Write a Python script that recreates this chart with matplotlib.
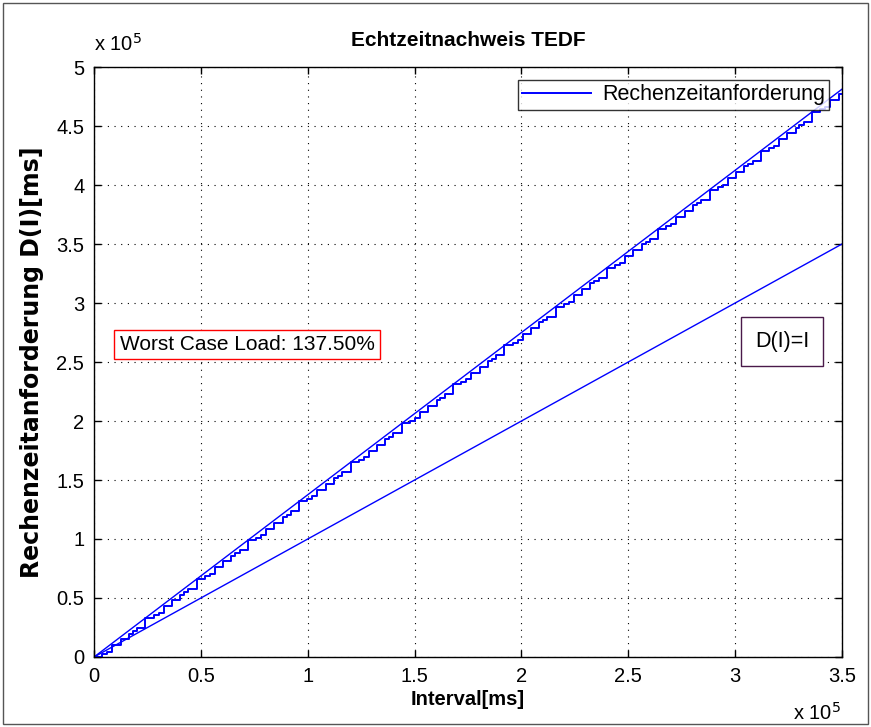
import numpy as np
import matplotlib.pyplot as plt
from matplotlib.patches import Rectangle

plt.rcParams['font.family'] = ['Liberation Sans', 'DejaVu Sans']

# demand pattern of one period, repeats over the interval
period_len = 24000
step_offsets = [3870, 6190, 8510, 12380, 16250, 18110, 20120, 24000]
step_heights = [2260, 1970, 5640, 5080, 4800, 1970, 2820, 8460]
n_periods = 15

# bound lines
load_x = [0, 3.5e5]
load_y = [0, 4.8125e5]   # 137.5 % load
ident_x = [0, 3.5e5]
ident_y = [0, 3.5e5]

x_ticks = [0, 0.5e5, 1e5, 1.5e5, 2e5, 2.5e5, 3e5, 3.5e5]
y_ticks = [0, 0.5e5, 1e5, 1.5e5, 2e5, 2.5e5, 3e5, 3.5e5, 4e5, 4.5e5, 5e5]

# build the step curve
sx = [0]
sy = [0]
level = 0
for k in range(n_periods):
    for off, h in zip(step_offsets, step_heights):
        level += h
        sx.append(k * period_len + off)
        sy.append(level)

fig = plt.figure(figsize=(8.71, 7.27), dpi=100)
ax = fig.add_axes([0.108, 0.0963, 0.8587, 0.8115])

line_step, = ax.step(sx, sy, where='post', color='blue', lw=1.4)
ax.plot(load_x, load_y, color='blue', lw=1.0)
ax.plot(ident_x, ident_y, color='blue', lw=1.0)

ax.set_xlim(0, 3.5e5)
ax.set_ylim(0, 5e5)
ax.set_xticks(x_ticks)
ax.set_yticks(y_ticks)
ax.set_xticklabels(['%g' % (v / 1e5) for v in x_ticks])
ax.set_yticklabels(['%g' % (v / 1e5) for v in y_ticks])
ax.tick_params(direction='in', top=True, right=True, labelsize=14.5, length=5, width=1, pad=7)
ax.grid(True, linestyle=(0, (1, 5)), color='black', lw=0.8)
for s in ax.spines.values():
    s.set_linewidth(1.0)

ax.set_title('Echtzeitnachweis TEDF', fontsize=15, fontweight='bold', pad=15)
ax.set_xlabel('Interval[ms]', fontsize=14.5, fontweight='bold', labelpad=3)
ax.set_ylabel('Rechenzeitanforderung D(I)[ms]', fontsize=17, fontweight='bold',
              family='DejaVu Sans', labelpad=9)

fig.text(0.108, 0.925, r'x 10$^{5}$', fontsize=14.5, ha='left', va='bottom')
fig.text(0.966, 0.005, r'x 10$^{5}$', fontsize=14.5, ha='right', va='bottom')

leg = ax.legend([line_step], ['Rechenzeitanforderung'], loc='upper right',
                fontsize=15.5, frameon=True, fancybox=False, borderaxespad=0.6,
                handlelength=3.2, borderpad=0.2, handletextpad=0.5)
leg.get_frame().set_edgecolor('black')
leg.get_frame().set_linewidth(1.0)

ax.text(0.716e5, 2.65e5, 'Worst Case Load: 137.50%', fontsize=15, ha='center', va='center',
        bbox=dict(boxstyle='square,pad=0.25', facecolor='white', edgecolor='red', lw=1.0))
ax.text(3.22e5, 2.67e5, 'D(I)=I', fontsize=15.5, ha='center', va='center',
        bbox=dict(boxstyle='square,pad=0.65', facecolor='white', edgecolor='#4a1a4a', lw=1.0))

fig.patches.append(Rectangle((0.004, 0.004), 0.992, 0.992, transform=fig.transFigure,
                             fill=False, edgecolor='#555555', lw=1.0))

fig.savefig('out.png', dpi=100)
